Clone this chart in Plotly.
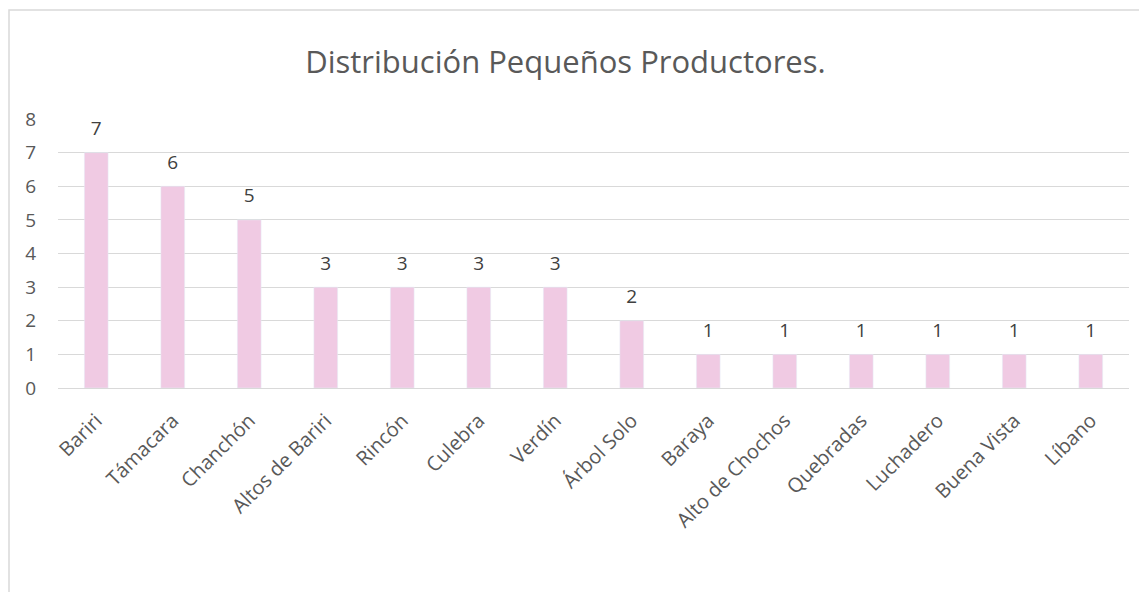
import plotly.graph_objects as go

# data
veredas = ["Bariri", "Támacara", "Chanchón", "Altos de Bariri", "Rincón", "Culebra",
           "Verdín", "Árbol Solo", "Baraya", "Alto de Chochos", "Quebradas",
           "Luchadero", "Buena Vista", "Líbano"]
productores = [7, 6, 5, 3, 3, 3, 3, 2, 1, 1, 1, 1, 1, 1]
y_ticks = [0, 1, 2, 3, 4, 5, 6, 7, 8]

# the page body adds an 8px offset, so margins are compensated
OFF = 8
W, H = 1147, 592
L, R, T, B = 58 - OFF, 18 + OFF, 119 - OFF, 204 + OFF
pw, ph = W - L - R, H - T - B

fig = go.Figure()
fig.add_trace(go.Bar(x=veredas, y=productores,
                     marker_color="#F0CAE3",
                     hoverinfo="x+y",
                     showlegend=False))
# value labels, lifted above the bars by an invisible marker
fig.add_trace(go.Scatter(x=veredas, y=productores, mode="markers+text",
                         text=productores, textposition="top center",
                         marker=dict(size=19, opacity=0),
                         textfont=dict(size=19, color="#404040"),
                         cliponaxis=False, hoverinfo="skip",
                         showlegend=False))

fig.update_layout(
    width=W, height=H,
    margin=dict(l=L, r=R, t=T, b=B),
    paper_bgcolor="white", plot_bgcolor="white",
    font=dict(family="Open Sans", color="#595959"),
    bargap=0.69,
    title=dict(text="Distribución Pequeños Productores.",
               x=0.486, xanchor="center", y=1 - (62 - OFF) / H, yanchor="middle",
               font=dict(size=31, color="#595959")),
)
fig.update_xaxes(range=[-0.5, len(veredas) - 0.5],
                 tickangle=-45, tickfont=dict(size=20, color="#595959"),
                 showline=True, linecolor="#D9D9D9", linewidth=1,
                 ticks="", ticklabelstandoff=12, automargin=False)
fig.update_yaxes(range=[0, 8], tickvals=y_ticks, showgrid=True,
                 gridcolor="#D9D9D9", gridwidth=1, zeroline=False,
                 tickfont=dict(size=19, color="#595959"), ticklabelstandoff=21,
                 automargin=False)

# chart border like the Excel chart area
fig.add_shape(type="rect", xref="paper", yref="paper",
              x0=(1 - L) / pw, x1=(1160 - L) / pw,
              y0=(H - B - 600) / ph, y1=1 + (T - 10 + OFF) / ph,
              line=dict(color="#D9D9D9", width=1.5), layer="below")

fig.write_html("out.html")
